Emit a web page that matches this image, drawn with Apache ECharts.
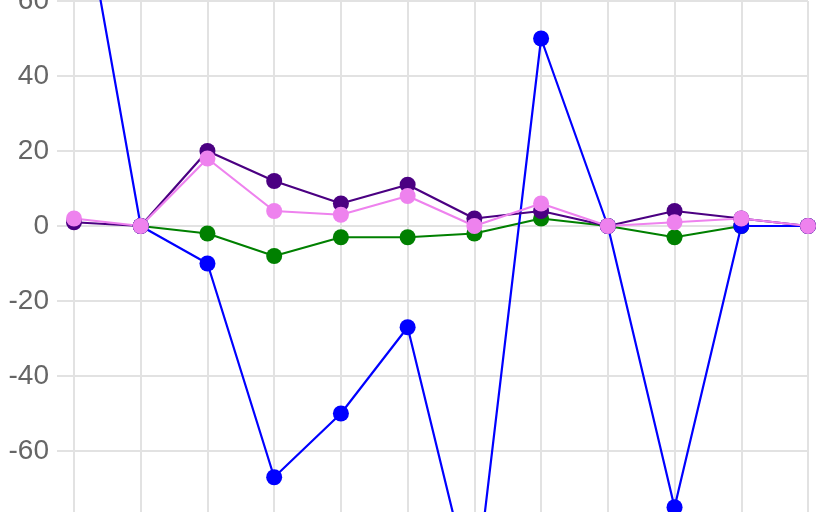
<!DOCTYPE html>
<html>
<head>
<meta charset="utf-8">
<script src="https://cdn.jsdelivr.net/npm/echarts@6/dist/echarts.min.js"></script>
<style>
html,body{margin:0;padding:0;background:#fff;}
#chart{width:832px;height:512px;}
</style>
</head>
<body>
<div id="chart"></div>
<script>
const categories = ['1','2','3','4','5','6','7','8','9','10','11','12'];
const blueValues   = [100, 0, -10, -67, -50, -27, -100, 50, 0, -75, 0, 0];
const greenValues  = [null, 0, -2, -8, -3, -3, -2, 2, 0, -3, 0, 0];
const purpleValues = [1, 0, 20, 12, 6, 11, 2, 4, 0, 4, 2, 0];
const violetValues = [2, 0, 18, 4, 3, 8, 0, 6, 0, 1, 2, 0];

const chart = echarts.init(document.getElementById('chart'), null, {renderer:'canvas'});
function mk(name, data, color){
  return {
    name, type:'line', data, clip:false,
    symbol:'circle', symbolSize:16, showSymbol:true,
    lineStyle:{color, width:2.2},
    itemStyle:{color},
    emphasis:{disabled:true},
    animation:false
  };
}
chart.setOption({
  animation:false,
  grid:{left:74, width:734, top:1, height:525, containLabel:false, outerBoundsMode:'none'},
  xAxis:{
    type:'category', data:categories, boundaryGap:false,
    axisLine:{show:false}, axisTick:{show:false}, axisLabel:{show:false},
    splitLine:{show:true, lineStyle:{color:'#e2e2e2', width:2}}
  },
  yAxis:{
    type:'value', min:-80, max:60, interval:20,
    axisLine:{show:true, lineStyle:{color:'#e2e2e2', width:2}},
    axisTick:{show:true, length:17, lineStyle:{color:'#e2e2e2', width:2}},
    axisLabel:{color:'#666', fontSize:28, fontFamily:'Liberation Sans, Arial, sans-serif', margin:25},
    splitLine:{show:true, lineStyle:{color:'#e2e2e2', width:2}}
  },
  series:[
    mk('green', greenValues, '#008000'),
    mk('blue', blueValues, '#0000ff'),
    mk('purple', purpleValues, '#4b0082'),
    mk('violet', violetValues, '#ee82ee')
  ]
});
</script>
</body>
</html>
